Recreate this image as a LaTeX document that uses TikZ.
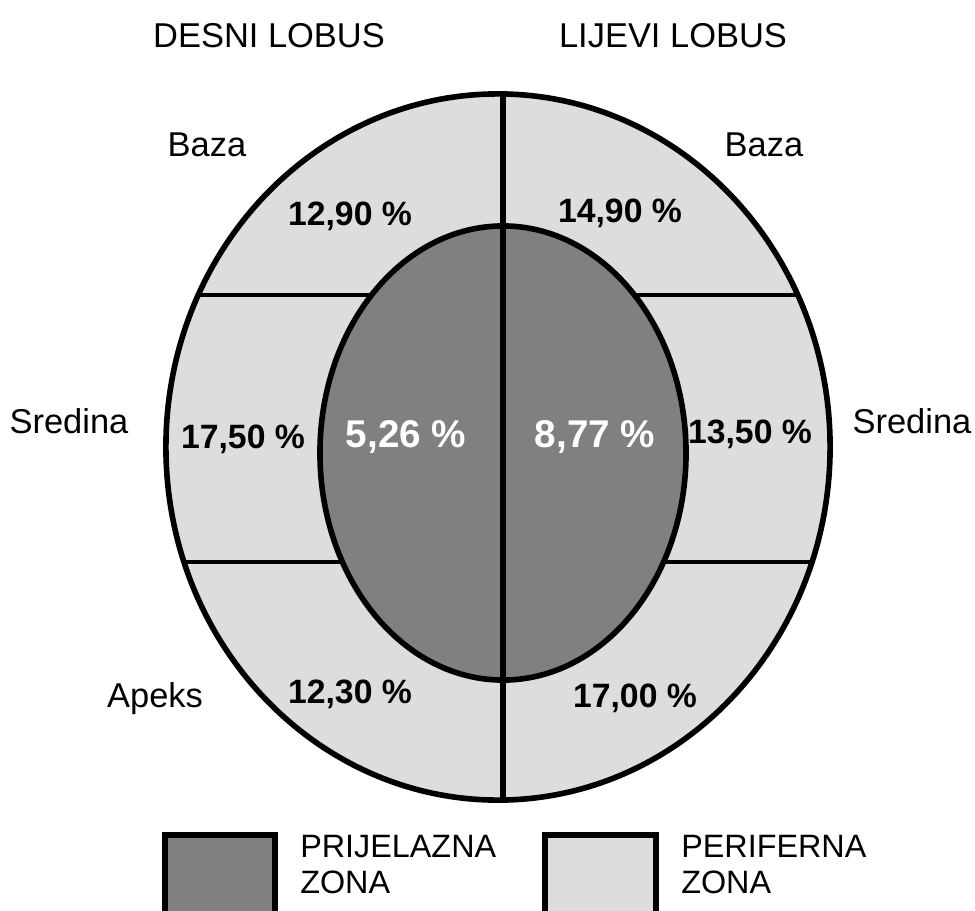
\documentclass[tikz,border=0pt]{standalone}
\usepackage{fontspec}
\setmainfont{Liberation Sans}
\usetikzlibrary{positioning}
\definecolor{perif}{HTML}{DDDDDD}
\definecolor{prijel}{HTML}{808080}

\begin{document}
\begin{tikzpicture}[x=0.025cm, y=-0.025cm,
    lbl/.style={font=\fontsize{24.5}{29}\selectfont, inner sep=0pt},
    pct/.style={font=\fontsize{24}{29}\selectfont\bfseries, inner sep=0pt},
    pctw/.style={font=\fontsize{27.5}{32}\selectfont\bfseries, text=white, inner sep=0pt},
    legtxt/.style={font=\fontsize{23}{25.5}\selectfont, inner sep=0pt, align=left, anchor=north west}]
  \useasboundingbox (0,0) rectangle (975,910);

  % outer (periferna) zone
  \coordinate (out) at (498,447);
  \coordinate (in) at (503,453);
  \fill[perif] (out) ellipse [x radius=8.3cm, y radius=8.825cm];
  \begin{scope}
    \clip (out) ellipse [x radius=8.3cm, y radius=8.825cm];
    \draw[line width=3.4pt] (140,295) -- (860,295);
    \draw[line width=3.4pt] (140,562) -- (860,562);
  \end{scope}

  % inner (prijelazna) zone
  \draw[prijel, fill=prijel] (in) ellipse [x radius=4.575cm, y radius=5.675cm];
  \draw[line width=4pt] (in) ellipse [x radius=4.575cm, y radius=5.675cm];
  \draw[line width=3.6pt] (503,94) -- (503,800);
  \draw[line width=4pt] (out) ellipse [x radius=8.3cm, y radius=8.825cm];

  % headers and side labels
  \node[lbl] (desni) at (269,36) {DESNI LOBUS};
  \node[lbl] (lijevi) at (673,36) {LIJEVI LOBUS};
  \node[lbl] (bazaL) at (207,145) {Baza};
  \node[lbl] (bazaR) at (764,145) {Baza};
  \node[lbl] (sredL) at (69,421) {Sredina};
  \node[lbl] (sredR) at (912,421) {Sredina};
  \node[lbl] (apeks) at (155,699) {Apeks};

  % percentages
  \node[pct] (p1) at (350,216) {12,90 \%};
  \node[pct] (p2) at (620,213) {14,90 \%};
  \node[pct] (p3) at (243,439) {17,50 \%};
  \node[pct] (p4) at (750,434) {13,50 \%};
  \node[pct] (p5) at (350,694) {12,30 \%};
  \node[pct] (p6) at (635,698) {17,00 \%};
  \node[pctw] (p7) at (406,437) {5,26 \%};
  \node[pctw] (p8) at (595,437) {8,77 \%};

  % legend
  \draw[line width=4.3pt, fill=prijel] (165,835) rectangle (275,915);
  \draw[line width=4.3pt, fill=perif] (545,835) rectangle (656,915);
  \node[legtxt] (legP) at (300,835) {PRIJELAZNA\\ZONA};
  \node[legtxt] (legF) at (681,835) {PERIFERNA\\ZONA};
\end{tikzpicture}
\end{document}
